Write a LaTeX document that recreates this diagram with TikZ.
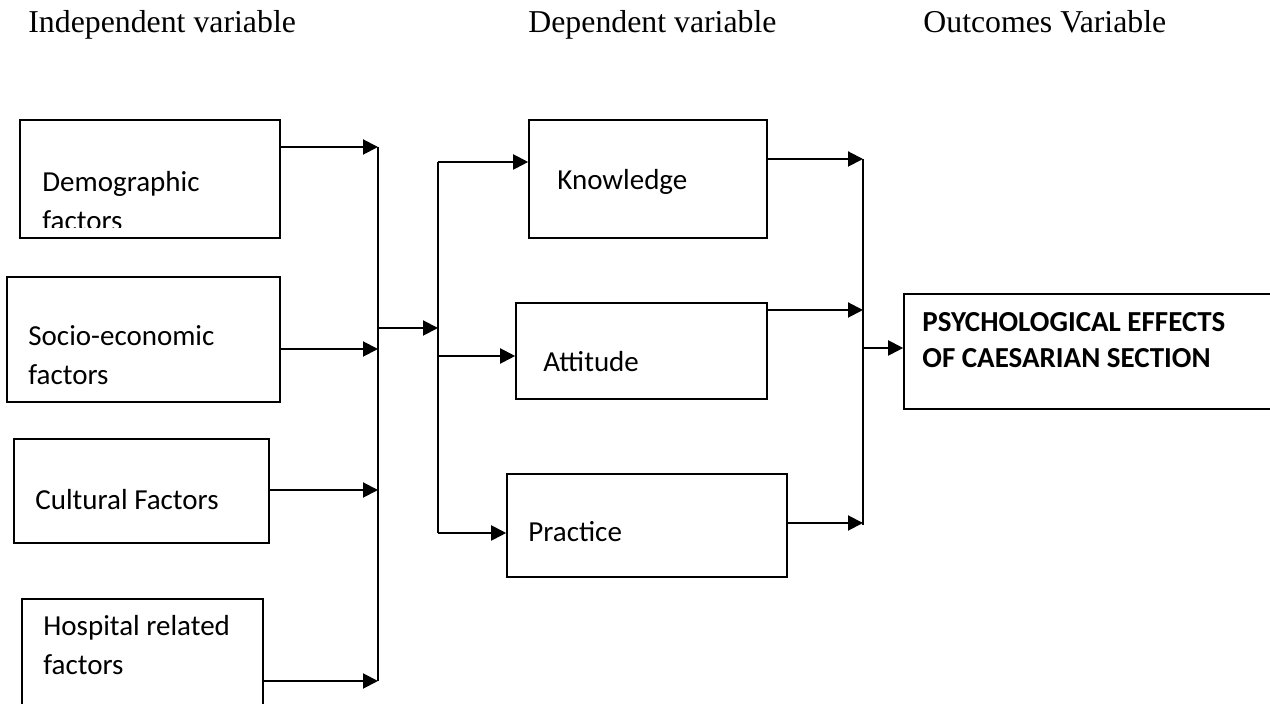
\documentclass[tikz,border=0pt]{standalone}
\usepackage{fontspec}
\setmainfont{Liberation Serif}
\newfontfamily\boxfont{Carlito}
\usetikzlibrary{positioning, arrows.meta, fit}

\begin{document}
\begin{tikzpicture}[
    x=0.5pt, y=-0.5pt,
    box/.style={draw, line width=0.8pt, inner sep=0pt},
    head/.style={anchor=base west, inner sep=0pt, font=\fontsize{15.9}{19}\selectfont},
    boxtext/.style={anchor=base west, inner sep=0pt, align=left, font=\boxfont\fontsize{14.5}{19.5}\selectfont},
    flow/.style={-{Triangle[length=7.5pt,width=7.5pt]}, line width=1pt},
    bus/.style={line width=1pt}
]
\useasboundingbox (0,0) rectangle (1270,704);
% Column headings
\node[head] (hind) at (28,33) {Independent variable};
\node[head] (hdep) at (528,33) {Dependent variable};
\node[head] (hout) at (923,33) {Outcomes Variable};
% Left column - independent variables
\node[box, fit={(20,120) (280,238)}] (demo) {};
\node[box, fit={(7,277) (280,402)}] (socio) {};
\node[box, fit={(14,439) (269,543)}] (cult) {};
\node[box, fit={(22,599) (263,712)}] (hosp) {};
\begin{scope}
    \clip (demo.north west) rectangle ([yshift=5.5pt]demo.south east);
    \node[boxtext] (tdemo) at (42,231) {Demographic\\factors};
\end{scope}
\node[boxtext] (tsocio) at (28,385) {Socio-economic\\factors};
\node[boxtext] (tcult) at (35,510) {Cultural Factors};
\node[boxtext] (thosp) at (43,675) {Hospital related\\factors};
% Middle column - dependent variables
\node[box, fit={(529,120) (767,238)}] (know) {};
\node[box, fit={(516,303) (767,399)}] (att) {};
\node[box, fit={(507,474) (787,577)}] (prac) {};
\node[boxtext] (tknow) at (557,190) {Knowledge};
\node[boxtext] (tatt) at (543,372) {Attitude};
\node[boxtext] (tprac) at (528,542) {Practice};
% Right column - outcome
\node[box, fit={(904,294) (1275,409)}] (effect) {};
\node[boxtext, font=\boxfont\bfseries\fontsize{14.5}{18}\selectfont] (teffect) at (922,368)
    {PSYCHOLOGICAL EFFECTS\\OF CAESARIAN SECTION};
% Junction points on the collecting lines
\coordinate (j1) at (378,147);
\coordinate (j2) at (378,349);
\coordinate (j3) at (378,490);
\coordinate (j4) at (378,681);
\coordinate (m1) at (378,328);
\coordinate (m2) at (438,328);
\coordinate (k1) at (438,162);
\coordinate (k2) at (438,356);
\coordinate (k3) at (438,533);
\coordinate (r1) at (863,159);
\coordinate (r2) at (863,310);
\coordinate (r3) at (863,523);
\coordinate (r4) at (863,348);
\coordinate (r5) at (863,525);
% Collecting lines
\draw[bus] (j1) -- (j4);
\draw[bus] (k1) -- (k3);
\draw[bus] (r1) -- (r5);
% Arrows into the first line
\draw[flow] (demo.east |- j1) -- (j1);
\draw[flow] (socio.east |- j2) -- (j2);
\draw[flow] (cult.east |- j3) -- (j3);
\draw[flow] (hosp.east |- j4) -- (j4);
\draw[flow] (m1) -- (m2);
% Arrows to the dependent variables
\draw[flow] (k1) -- (k1 -| know.west);
\draw[flow] (k2) -- (k2 -| att.west);
\draw[flow] (k3) -- (k3 -| prac.west);
% Arrows into the last line
\draw[flow] (know.east |- r1) -- (r1);
\draw[flow] (att.east |- r2) -- (r2);
\draw[flow] (prac.east |- r3) -- (r3);
\draw[flow] (r4) -- (r4 -| effect.west);
\end{tikzpicture}
\end{document}
